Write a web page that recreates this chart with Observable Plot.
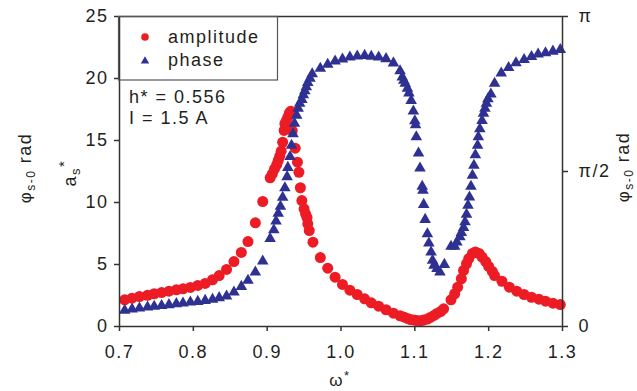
<!DOCTYPE html>
<html><head><meta charset="utf-8">
<script src="https://cdn.jsdelivr.net/npm/d3@7"></script>
<script src="https://cdn.jsdelivr.net/npm/@observablehq/plot@0.6"></script>
<style>
html,body{margin:0;padding:0;background:#fff;}
#chart{width:637px;height:391px;overflow:hidden;}
</style></head><body><div id="chart"></div>
<script>
// ---- data ----
const omegaAmp = [0.707,0.717,0.727,0.738,0.747,0.757,0.767,0.777,0.786,0.796,0.806,0.816,0.826,0.835,0.845,0.855,0.865,0.874,0.884,0.894,0.904,
  0.907,0.910,0.913,0.915,0.917,0.919,0.921,0.923,0.924,0.926,0.928,0.930,0.932,
  0.934,0.938,0.941,0.943,0.945,0.947,0.950,0.952,0.954,0.955,0.957,0.962,0.972,0.982,0.992,1.002,1.012,1.022,1.032,1.041,1.051,1.061,1.071,1.080,
  1.085,1.090,1.094,1.099,1.103,1.108,1.112,1.117,1.121,1.126,1.130,1.135,1.139,1.149,1.154,1.158,1.163,1.166,1.170,1.173,1.178,1.182,1.187,1.191,1.196,1.200,1.205,1.208,1.218,1.228,1.238,1.248,1.258,1.268,1.277,1.287,1.297];
const amplitude = [2.15,2.28,2.42,2.52,2.64,2.74,2.85,2.96,3.04,3.15,3.31,3.47,3.77,4.11,4.60,5.24,5.97,6.85,8.36,10.08,11.99,
  12.31,12.72,13.06,13.39,13.73,14.14,14.86,15.81,16.35,16.61,16.88,17.20,17.36,
  15.8,14.38,13.25,12.44,11.19,10.16,9.49,9.09,8.79,8.28,7.74,6.80,5.56,4.70,3.98,3.39,2.93,2.58,2.23,1.91,1.64,1.35,1.07,0.86,
  0.77,0.65,0.56,0.52,0.48,0.47,0.52,0.60,0.73,0.89,1.05,1.21,1.43,2.15,2.64,3.17,3.85,4.52,5.06,5.48,5.89,6.01,5.89,5.60,5.24,4.84,4.44,4.11,3.65,3.17,2.85,2.58,2.36,2.20,2.04,1.88,1.77];
const omegaPhase = [0.707,0.717,0.727,0.738,0.747,0.757,0.767,0.777,0.786,0.796,0.806,0.816,0.826,0.835,0.845,0.855,0.865,0.874,0.884,0.894,0.904,
  0.909,0.912,0.915,0.918,0.921,0.924,0.927,0.928,0.931,0.933,0.935,0.937,0.940,0.942,0.944,0.947,0.949,0.951,0.953,0.955,0.958,0.961,
  0.972,0.982,0.992,1.002,1.012,1.022,1.032,1.041,1.051,1.061,1.071,1.080,
  1.083,1.085,1.087,1.090,1.092,1.095,1.098,1.100,1.101,1.102,1.105,1.107,1.110,1.111,1.112,1.114,1.117,1.119,1.122,1.124,1.126,1.130,1.134,1.140,
  1.149,1.154,1.157,1.161,1.163,1.166,1.168,1.170,1.172,1.174,1.176,1.178,1.180,1.182,1.185,1.186,1.188,1.191,1.193,1.195,1.197,1.199,1.203,1.208,
  1.217,1.227,1.237,1.248,1.258,1.267,1.277,1.287,1.297];
const phaseRad = [0.162,0.175,0.185,0.196,0.203,0.210,0.220,0.230,0.236,0.246,0.253,0.263,0.274,0.291,0.307,0.348,0.405,0.466,0.550,0.662,0.889,
  0.978,1.067,1.145,1.216,1.307,1.404,1.517,1.611,1.720,1.834,1.953,2.057,2.138,2.209,2.260,2.300,2.346,2.387,2.429,2.470,2.513,2.559,
  2.615,2.655,2.689,2.709,2.729,2.739,2.746,2.736,2.729,2.713,2.670,2.591,
  2.528,2.493,2.463,2.412,2.366,2.290,2.182,2.083,2.042,1.922,1.756,1.604,1.419,1.378,1.236,1.084,0.939,0.844,0.753,0.669,0.618,0.585,0.550,0.628,
  0.811,0.811,0.854,0.909,0.951,1.001,1.059,1.135,1.226,1.310,1.419,1.530,1.632,1.738,1.834,1.922,2.003,2.085,2.159,2.209,2.260,2.307,2.354,2.463,
  2.567,2.622,2.672,2.704,2.734,2.759,2.772,2.789,2.805];
const xTicks = [0.7,0.8,0.9,1.0,1.1,1.2,1.3];
const yTicks = [0,5,10,15,20,25];
const phaseTicks = [0, Math.PI/2, Math.PI];
const phaseTickLabels = ["0","π/2","π"];
const seriesNames = ["amplitude","phase"];
const notes = ["h* = 0.556","I = 1.5 A"];

const RED = "#ed1c24", BLUE = "#2e3192", INK = "#231f20";
const ampData = d3.zip(omegaAmp, amplitude).map(([w,a]) => ({w, a}));
const phaseData = d3.zip(omegaPhase, phaseRad).map(([w,p]) => ({w, p}));
const AMAX = 25;
const toLeft = p => p / Math.PI * AMAX; // phase axis [0, π] spans same height as [0, 25]

const chart = Plot.plot({
  width: 637, height: 391,
  marginLeft: 119, marginRight: 75, marginTop: 16, marginBottom: 65,
  style: {fontFamily: "'Liberation Sans', Arial, sans-serif", fontSize: "18px", color: INK, background: "#fff", letterSpacing: "1.5px"},
  x: {domain: [0.7, 1.3]},
  y: {domain: [0, AMAX]},
  marks: [
    Plot.dot(ampData, {x: "w", y: "a", r: 5.5, fill: RED}),
    Plot.dot(phaseData, {x: "w", y: d => toLeft(d.p), symbol: "triangle", r: 4.3, fill: BLUE}),
    Plot.frame({stroke: "#333", strokeWidth: 1.5}),
    Plot.axisX({ticks: xTicks, tickFormat: d => d.toFixed(1), tickSize: 5, tickPadding: 14, strokeWidth: 1.5, stroke: "#333", label: null}),
    Plot.axisY({ticks: yTicks, tickSize: 5, tickPadding: 6, strokeWidth: 1.5, stroke: "#333", label: null}),
    Plot.axisY({anchor: "right", ticks: phaseTicks.map(toLeft), tickFormat: (d) => phaseTickLabels[phaseTicks.findIndex(t => Math.abs(toLeft(t) - d) < 1e-6)], tickSize: 5, tickPadding: 11, strokeWidth: 1.5, stroke: "#333", label: null})
  ]
});
document.getElementById("chart").appendChild(chart);

// ---- legend and annotations ----
const svg = d3.select(chart);
const g = svg.append("g").attr("font-family", "'Liberation Sans', Arial, sans-serif").attr("font-size", 18).attr("fill", INK).attr("text-anchor", "start").style("letter-spacing", "1.5px");
g.append("rect").attr("x", 118.5).attr("y", 16.5).attr("width", 159).attr("height", 63.5).attr("fill", "none").attr("stroke", "#555").attr("stroke-width", 1.2);
g.append("circle").attr("cx", 145).attr("cy", 37).attr("r", 3.8).attr("fill", RED);
g.append("path").attr("d", d3.symbol(d3.symbolTriangle, 30)()).attr("transform", "translate(145,61)").attr("fill", BLUE);
g.append("text").attr("x", 168).attr("y", 43).text(seriesNames[0]);
g.append("text").attr("x", 168).attr("y", 66).text(seriesNames[1]);
g.append("text").attr("x", 129).attr("y", 103).text(notes[0]);
g.append("text").attr("x", 129).attr("y", 124).text(notes[1]);

// x title
const xt = g.append("text").attr("x", 340).attr("y", 386).attr("text-anchor", "middle").attr("font-size", 17);
xt.append("tspan").text("ω");
xt.append("tspan").attr("dy", -6).attr("font-size", 13).text("*");

// left title a_s*
const at = g.append("text").attr("transform", "translate(76,173) rotate(-90)").attr("text-anchor", "middle");
at.append("tspan").text("a");
at.append("tspan").attr("dy", 4).attr("font-size", 13).text("s");
at.append("tspan").attr("dy", -11).attr("font-size", 15).text("*");

// phase titles (left and right)
function phaseTitle(x, y) {
  const t = g.append("text").attr("transform", `translate(${x},${y}) rotate(-90)`).attr("text-anchor", "middle");
  t.append("tspan").attr("font-size", 17).text("φ");
  t.append("tspan").attr("dy", 4).attr("font-size", 12).text("s-0");
  t.append("tspan").attr("dy", -4).attr("font-size", 18).text(" rad");
}
phaseTitle(31, 168);
phaseTitle(629, 167);
</script></body></html>
